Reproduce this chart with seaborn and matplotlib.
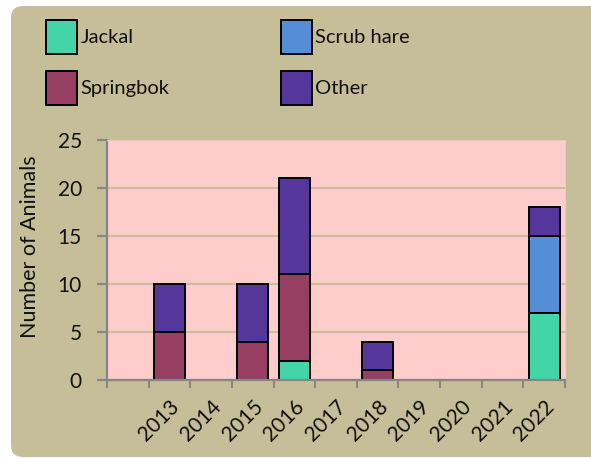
import numpy as np
import pandas as pd
import matplotlib
matplotlib.use('Agg')
import matplotlib.pyplot as plt
from matplotlib.patches import FancyBboxPatch, Patch
from matplotlib.ticker import FixedLocator
import seaborn as sns

# Data (first category has no label)
years = ["", "2013", "2014", "2015", "2016", "2017", "2018", "2019", "2020", "2021", "2022"]
jackal = [0, 0, 0, 0, 2, 0, 0, 0, 0, 0, 7]
springbok = [0, 5, 0, 4, 9, 0, 1, 0, 0, 0, 0]
scrub_hare = [0, 0, 0, 0, 0, 0, 0, 0, 0, 0, 8]
other = [0, 5, 0, 6, 10, 0, 3, 0, 0, 0, 3]

series = ["Jackal", "Springbok", "Scrub hare", "Other"]
colors = {"Jackal": "#43D5A7", "Springbok": "#963F63",
          "Scrub hare": "#558ED5", "Other": "#55369B"}

df = pd.DataFrame({"year": years, "Jackal": jackal, "Springbok": springbok,
                   "Scrub hare": scrub_hare, "Other": other})
# cumulative totals so the bars can be layered into a stack
stack = df.copy()
stack[series] = df[series].cumsum(axis=1)

sns.set_theme(style="ticks")
plt.rcParams['font.family'] = ['Lato', 'DejaVu Sans']
plt.rcParams['text.color'] = '#111111'
plt.rcParams['axes.labelcolor'] = '#111111'
plt.rcParams['xtick.labelcolor'] = '#111111'
plt.rcParams['ytick.labelcolor'] = '#111111'

fig = plt.figure(figsize=(5.91, 4.59), dpi=100)
fig.patch.set_facecolor('white')

# khaki rounded panel behind everything
bg = FancyBboxPatch((0.11, 0.02), 6.0, 4.51,
                    boxstyle="round,pad=0,rounding_size=0.12",
                    transform=fig.dpi_scale_trans, facecolor="#C6BE98",
                    edgecolor='none', zorder=-5)
fig.patches.append(bg)

ax = fig.add_axes([107 / 591, 79 / 459, 458 / 591, 240 / 459])
ax.set_zorder(1)
ax.set_facecolor('#FFCCCC')
ax.set_axisbelow(True)

for s in reversed(series):
    sns.barplot(data=stack, x="year", y=s, order=years, color=colors[s],
                width=0.75, edgecolor='black', linewidth=1.4, saturation=1, ax=ax)

ax.set_ylim(0, 25)
ax.set_yticks([0, 5, 10, 15, 20, 25])
ax.yaxis.grid(True, color='#C9BF98', linewidth=1.5)
ax.xaxis.grid(False)
ax.get_ygridlines()[-1].set_visible(False)
ax.set_xlim(-0.5, len(years) - 0.5)

ax.set_xticks(range(len(years)))
ax.set_xticklabels(years, rotation=45, ha='right', rotation_mode='anchor', fontsize=15)
ax.tick_params(axis='x', which='major', length=0, pad=12)
ax.xaxis.set_minor_locator(FixedLocator(np.arange(-0.5, len(years), 1)))
ax.tick_params(axis='x', which='minor', bottom=True, length=6, width=1.5, color='#868686')
ax.tick_params(axis='y', left=True, length=7, width=1.5, color='#868686', labelsize=15, pad=11)

for side in ['left', 'bottom']:
    ax.spines[side].set_color('#868686')
    ax.spines[side].set_linewidth(1.6)
for side in ['top', 'right']:
    ax.spines[side].set_color('#E8CDBE')
    ax.spines[side].set_linewidth(0.8)

ax.set_xlabel("")
ax.set_ylabel("Number of Animals", fontsize=15.5)
ax.yaxis.set_label_coords(-0.147, 0.556)

handles = [Patch(facecolor=colors[s], edgecolor='black', linewidth=1.4, label=s)
           for s in ["Jackal", "Springbok", "Scrub hare", "Other"]]
fig.legend(handles=handles, loc='upper left', bbox_to_anchor=(46 / 591, 1 - 20 / 459),
           ncol=2, frameon=False, fontsize=14.5, handlelength=1.55, handleheight=2.2,
           handletextpad=0.15, columnspacing=5.55, labelspacing=0.85,
           borderpad=0, borderaxespad=0)

fig.savefig('out.png', dpi=100)
